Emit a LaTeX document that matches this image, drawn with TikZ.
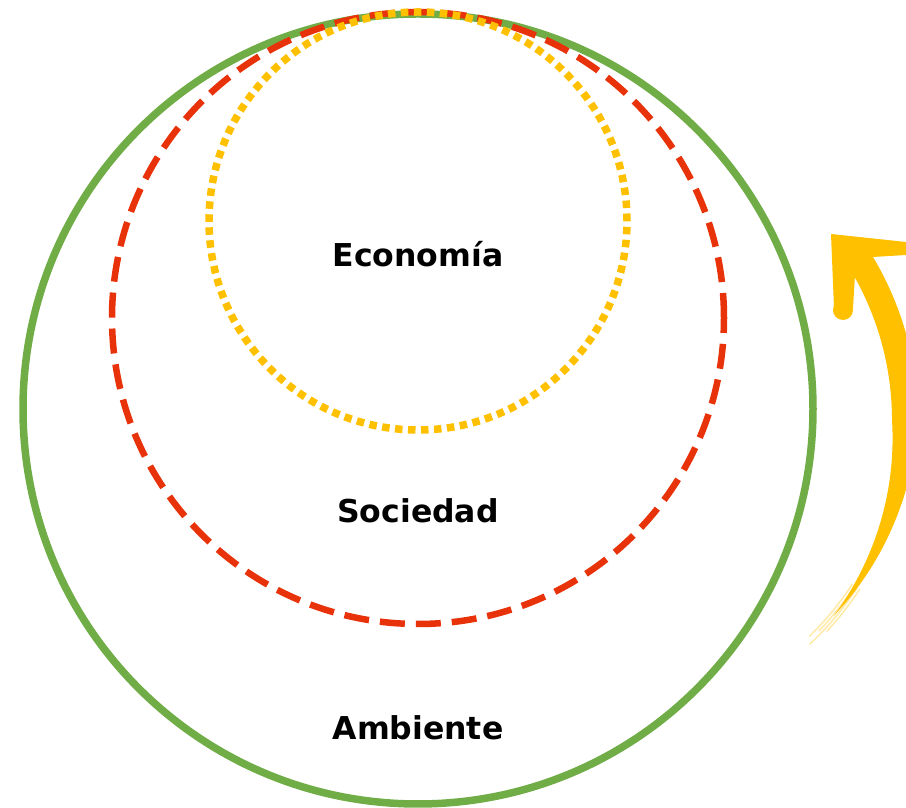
\documentclass[tikz,border=0pt]{standalone}
\usepackage{fontspec}
\setmainfont{DejaVu Sans}
\definecolor{ambgreen}{RGB}{112,173,71}
\definecolor{socred}{RGB}{232,50,10}
\definecolor{ecoyellow}{RGB}{255,192,0}
\begin{document}
\begin{tikzpicture}[x=1pt,y=1pt]
		\tikzstyle{every node}+=[inner sep=0pt,font=\fontsize{31.5}{37}\selectfont\bfseries]
		\useasboundingbox (0,0) rectangle (906,808);
		\clip (0,0) rectangle (906,808);
		% rings
		\draw [ambgreen,line width=7.5] (418,399) circle (395);
		\draw [socred,line width=6.5,dash pattern=on 25 off 11] (418,490) circle (306);
		\draw [ecoyellow,line width=7.5,dash pattern=on 7.5 off 5.5] (418,587) circle (209);
		\node (eco) at (418,554) {Econom\'ia};
		\node (soc) at (418,297) {Sociedad};
		\node (amb) at (418,80) {Ambiente};
		% brush arrow
		\fill [ecoyellow] plot [domain=-40:33,samples=60] ({600+(305+13*min(1,(\x+40)/40))*cos(\x)},{388+(305+13*min(1,(\x+40)/40))*sin(\x)})
			-- plot [domain=33:-40,samples=60] ({600+(305-13*min(1,(\x+40)/40))*cos(\x)},{388+(305-13*min(1,(\x+40)/40))*sin(\x)}) -- cycle;
		\foreach \r/\a in {301/-46,304/-44,307/-47,310/-43}
			\draw [ecoyellow,opacity=0.35,line width=1.5] (600,388) ++(\a:\r) arc (\a:-33:\r);
		\fill [ecoyellow] (831,574) -- (906,566) -- (906,553) -- (856,550) -- (853,500) -- (834,500) -- cycle;
		\fill [ecoyellow] (843,498) circle (10);
\end{tikzpicture}
\end{document}
